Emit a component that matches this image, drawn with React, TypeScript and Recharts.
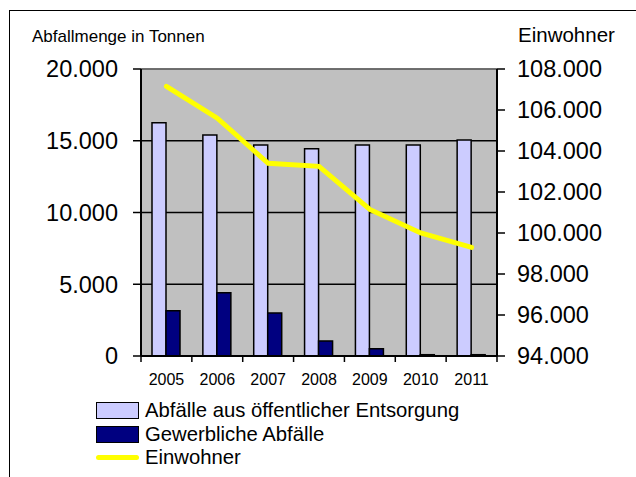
import React from 'react';
import {
  ComposedChart,
  Bar,
  Line,
  XAxis,
  YAxis,
  CartesianGrid,
  Legend,
  ReferenceLine,
} from 'recharts';

const years = ['2005', '2006', '2007', '2008', '2009', '2010', '2011'];
const oeffentlich = [16250, 15400, 14700, 14450, 14700, 14700, 15050];
const gewerblich = [3150, 4400, 3000, 1050, 500, 90, 90];
const einwohner = [107150, 105600, 103400, 103250, 101150, 100000, 99300];

const seriesNames = ['Abfälle aus öffentlicher Entsorgung', 'Gewerbliche Abfälle', 'Einwohner'];
const leftTicks = [0, 5000, 10000, 15000, 20000];
const rightTicks = [94000, 96000, 98000, 100000, 102000, 104000, 106000, 108000];

const data = years.map((y, i) => ({
  year: y,
  oeff: oeffentlich[i],
  gew: gewerblich[i],
  einw: einwohner[i],
}));

const FONT = '"Liberation Sans", Arial, Helvetica, sans-serif';
const W = 636;
const H = 477;
const LEFT_W = 141;
const RIGHT_W = 139;
const PLOT_W = W - LEFT_W - RIGHT_W;
const BAND = PLOT_W / years.length;

const fmt = (v: number) => String(Math.round(v)).replace(/\B(?=(\d{3})+(?!\d))/g, '.');

const XTick = (props: any) => {
  const { x, y, payload, index } = props;
  const half = BAND / 2;
  return (
    <g>
      <line x1={x - half} y1={y} x2={x - half} y2={y + 6} stroke="#000" strokeWidth={1.5} />
      {index === years.length - 1 && (
        <line x1={x + half} y1={y} x2={x + half} y2={y + 6} stroke="#000" strokeWidth={1.5} />
      )}
      <text x={x} y={y + 29} textAnchor="middle" fontSize={16} fontFamily={FONT} fill="#000">
        {payload.value}
      </text>
    </g>
  );
};

const LeftTitle = (props: any) => {
  const vb = props.viewBox || { x: 0, y: 69 };
  return (
    <text x={vb.x + 32} y={vb.y - 27} fontSize={17} fontFamily={FONT} fill="#000" textAnchor="start">
      Abfallmenge in Tonnen
    </text>
  );
};

const RightTitle = (props: any) => {
  const vb = props.viewBox || { x: 497, y: 69 };
  return (
    <text x={vb.x + 21} y={vb.y - 27} fontSize={20.5} fontFamily={FONT} fill="#000" textAnchor="start">
      Einwohner
    </text>
  );
};

const LegendContent = (props: any) => {
  const { payload = [] } = props;
  const ordered = seriesNames
    .map((n) => payload.find((p: any) => p.value === n))
    .filter(Boolean);
  return (
    <div style={{ fontFamily: FONT, fontSize: 20.3, color: '#000' }}>
      {ordered.map((p: any, i: number) => (
        <div
          key={i}
          style={{ display: 'flex', alignItems: 'center', height: 23.5, lineHeight: '23.5px', whiteSpace: 'nowrap' }}
        >
          {p.type === 'line' ? (
            <div style={{ width: 43, height: 5, background: p.color, borderRadius: 3 }} />
          ) : (
            <div
              style={{
                width: 43,
                height: 17,
                background: p.color,
                border: '1.5px solid #000',
                boxSizing: 'border-box',
              }}
            />
          )}
          <span style={{ marginLeft: 6 }}>{p.value}</span>
        </div>
      ))}
    </div>
  );
};

export default function App() {
  return (
    <div
      style={{
        position: 'absolute',
        left: 0,
        top: 0,
        width: W,
        height: H,
        overflow: 'hidden',
        background: '#fff',
      }}
    >
      <div
        style={{
          position: 'absolute',
          left: 9,
          top: 10,
          width: 700,
          height: 600,
          borderLeft: '1px solid #000',
          borderTop: '1px solid #000',
        }}
      />
      <div style={{ position: 'absolute', left: 0, top: 0 }}>
        <ComposedChart
          width={W}
          height={H}
          data={data}
          margin={{ top: 69, right: 0, bottom: 81, left: 0 }}
          barGap={0}
        >
          <CartesianGrid
            yAxisId="left"
            vertical={false}
            fill="#C0C0C0"
            stroke="#000"
            strokeWidth={1.5}
          />
          <XAxis
            dataKey="year"
            height={40}
            tickLine={false}
            tickSize={0}
            tickMargin={0}
            axisLine={{ stroke: '#000', strokeWidth: 2 }}
            tick={<XTick />}
            interval={0}
          />
          <YAxis
            yAxisId="left"
            width={LEFT_W}
            domain={[0, 20000]}
            ticks={leftTicks}
            tickFormatter={fmt}
            tickSize={8}
            tickMargin={15}
            tickLine={{ stroke: '#000', strokeWidth: 1.5 }}
            axisLine={{ stroke: '#000', strokeWidth: 2 }}
            tick={{ fontSize: 23.5, fontFamily: FONT, fill: '#000' }}
            interval={0}
            label={LeftTitle}
          />
          <YAxis
            yAxisId="right"
            orientation="right"
            width={RIGHT_W}
            domain={[94000, 108000]}
            ticks={rightTicks}
            tickFormatter={fmt}
            tickSize={8}
            tickMargin={12}
            tickLine={{ stroke: '#000', strokeWidth: 1.5 }}
            axisLine={{ stroke: '#000', strokeWidth: 2 }}
            tick={{ fontSize: 23.5, fontFamily: FONT, fill: '#000', textAnchor: 'start' }}
            interval={0}
            label={RightTitle}
          />
          <ReferenceLine yAxisId="left" y={20000} stroke="#808080" strokeWidth={1.5} />
          <Bar
            yAxisId="left"
            dataKey="oeff"
            name={seriesNames[0]}
            fill="#CCCCFF"
            stroke="#000"
            strokeWidth={1.5}
            barSize={14}
            isAnimationActive={false}
          />
          <Bar
            yAxisId="left"
            dataKey="gew"
            name={seriesNames[1]}
            fill="#000080"
            stroke="#000"
            strokeWidth={1.5}
            barSize={14}
            isAnimationActive={false}
          />
          <Line
            yAxisId="right"
            dataKey="einw"
            name={seriesNames[2]}
            type="linear"
            stroke="#FFFF00"
            strokeWidth={5}
            strokeLinecap="round"
            dot={false}
            activeDot={false}
            isAnimationActive={false}
          />
          <Legend
            layout="vertical"
            align="center"
            verticalAlign="middle"
            width={520}
            wrapperStyle={{ left: 96, top: 399, width: 520 }}
            content={<LegendContent />}
          />
        </ComposedChart>
      </div>
    </div>
  );
}
